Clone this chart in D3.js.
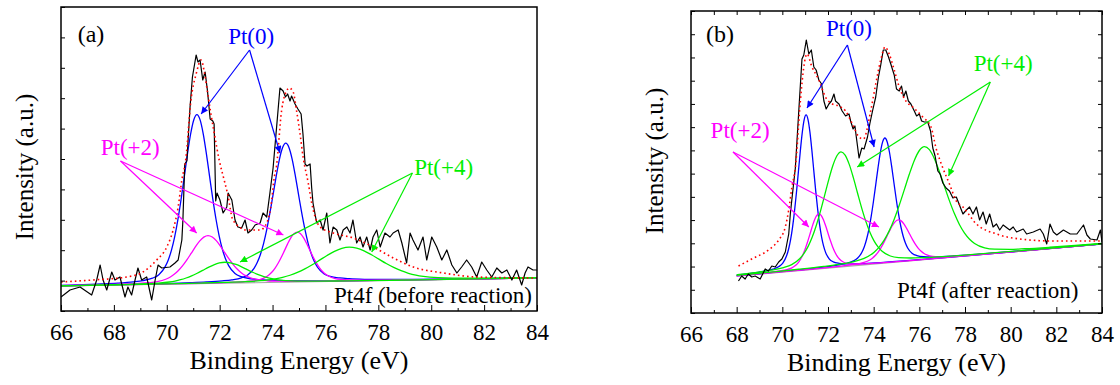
<!DOCTYPE html>
<html>
<head>
<meta charset="utf-8">
<script src="https://cdnjs.cloudflare.com/ajax/libs/d3/7.8.5/d3.min.js"></script>
<style>
  body { margin: 0; background: #fff; }
</style>
</head>
<body>
<svg id="chart" width="1120" height="385"></svg>
<script>
// ---- data ----
const xTicks = [66, 68, 70, 72, 74, 76, 78, 80, 82, 84];
const xMinorTicks = [67, 69, 71, 73, 75, 77, 79, 81, 83];

// (a) before reaction: measured spectrum [binding energy, counts]
const spectrumA = [
  [66.0, 14], [66.34, 21], [66.72, 24], [67.16, 16], [67.35, 31], [67.48, 46], [67.59, 31], [67.73, 21],
  [67.92, 39], [68.04, 31], [68.23, 34], [68.42, 14], [68.53, 24], [68.67, 16], [68.80, 31], [68.91, 43],
  [69.05, 31], [69.24, 34], [69.43, 11], [69.56, 31], [69.67, 46], [69.81, 43], [70.12, 44], [70.31, 48],
  [70.43, 51], [70.57, 71], [70.61, 91], [70.68, 147], [70.76, 150], [70.88, 204], [70.97, 234], [71.11, 256],
  [71.18, 249], [71.26, 251], [71.36, 231], [71.45, 239], [71.54, 220], [71.64, 192], [71.74, 190], [71.79, 187],
  [71.85, 110], [71.90, 118], [72.01, 111], [72.13, 98], [72.27, 104], [72.32, 118], [72.46, 111], [72.58, 91],
  [72.69, 84], [72.83, 83], [72.96, 91], [73.07, 78], [73.21, 81], [73.34, 86], [73.53, 88], [73.64, 98],
  [73.78, 94], [73.90, 118], [74.02, 143], [74.28, 223], [74.40, 220], [74.49, 214], [74.57, 217], [74.66, 210],
  [74.72, 215], [74.85, 207], [74.96, 202], [75.08, 197], [75.15, 177], [75.23, 147], [75.30, 145], [75.42, 147],
  [75.48, 123], [75.53, 108], [75.67, 88], [75.80, 91], [75.91, 81], [76.05, 98], [76.17, 68], [76.29, 84],
  [76.43, 81], [76.55, 71], [76.67, 81], [76.81, 84], [76.93, 78], [77.04, 91], [77.18, 68], [77.31, 74],
  [77.42, 64], [77.56, 74], [77.69, 61], [77.80, 74], [77.94, 81], [78.07, 64], [78.25, 78], [78.44, 74],
  [78.56, 78], [78.75, 81], [78.89, 68], [79.07, 48], [79.20, 78], [79.31, 71], [79.50, 61], [79.69, 74],
  [79.83, 51], [80.02, 74], [80.21, 64], [80.40, 51], [80.59, 61], [80.78, 46], [80.97, 38], [81.15, 44],
  [81.34, 51], [81.53, 44], [81.72, 34], [81.91, 49], [82.10, 41], [82.29, 34], [82.48, 43], [82.67, 38],
  [82.86, 41], [83.05, 31], [83.23, 41], [83.42, 26], [83.55, 38], [83.66, 44], [83.85, 41], [84.0, 41]
];
// (a) fitted envelope (red dotted)
const envelopeA = [
  [66.0, 29], [67.2, 31], [68.48, 34], [69.1, 39], [69.62, 51], [70.0, 64], [70.24, 81], [70.43, 104],
  [70.57, 131], [70.72, 152], [70.91, 210], [71.11, 237], [71.3, 251], [71.42, 239], [71.55, 217], [71.67, 197],
  [71.8, 177], [71.99, 150], [72.18, 130], [72.31, 116], [72.5, 91], [73.02, 81], [73.53, 81], [73.78, 88],
  [73.97, 111], [74.05, 131], [74.15, 145], [74.34, 200], [74.53, 220], [74.63, 223], [74.78, 219], [74.91, 200],
  [75.04, 177], [75.16, 153], [75.35, 128], [75.48, 108], [75.6, 95], [75.8, 84], [76.3, 78], [77.05, 73],
  [77.81, 64], [78.57, 53], [79.32, 44], [80.46, 38], [81.72, 34], [84.0, 33]
];
// (a) background line and fitted components: Pt(0) 4f7/2, 4f5/2, Pt(+2) x2, Pt(+4) x2
const baseA = [[66, 25], [84, 33]];
const centersA = [71.14, 74.50, 71.56, 74.93, 72.20, 76.90];
const heightsA = [169, 139, 48, 50, 21, 34];
const widthsA = [1.2, 1.2, 1.6, 1.2, 2.1, 2.8];

// (b) after reaction
const spectrumB = [
  [68.08, 32], [68.22, 37], [68.37, 34], [68.51, 39], [68.66, 36], [68.81, 37], [69.03, 34], [69.25, 44],
  [69.39, 42], [69.54, 47], [69.69, 46], [69.84, 51], [69.98, 54], [70.13, 61], [70.28, 79], [70.35, 99],
  [70.42, 114], [70.57, 145], [70.72, 202], [70.86, 254], [70.94, 258], [71.05, 273], [71.16, 259], [71.27, 263],
  [71.38, 246], [71.48, 243], [71.60, 233], [71.72, 229], [71.82, 212], [71.92, 204], [72.04, 209], [72.15, 212],
  [72.26, 219], [72.33, 212], [72.48, 209], [72.62, 202], [72.77, 197], [72.92, 199], [72.99, 192], [73.10, 184],
  [73.18, 187], [73.24, 176], [73.36, 155], [73.48, 165], [73.58, 164], [73.73, 176], [73.83, 189], [73.95, 202],
  [74.09, 216], [74.21, 236], [74.31, 248], [74.42, 263], [74.53, 263], [74.65, 256], [74.75, 249], [74.90, 238],
  [75.00, 224], [75.12, 222], [75.22, 227], [75.31, 216], [75.41, 222], [75.52, 212], [75.63, 209], [75.78, 202],
  [75.88, 197], [76.00, 199], [76.10, 192], [76.22, 191], [76.37, 191], [76.49, 182], [76.59, 165], [76.69, 157],
  [76.81, 142], [76.91, 139], [77.03, 130], [77.17, 125], [77.32, 122], [77.47, 115], [77.62, 116], [77.91, 99],
  [78.06, 103], [78.20, 106], [78.35, 99], [78.50, 106], [78.64, 93], [78.79, 101], [78.93, 89], [79.08, 99],
  [79.23, 86], [79.38, 89], [79.52, 83], [79.67, 88], [79.96, 83], [80.11, 86], [80.26, 81], [80.55, 84],
  [80.70, 79], [80.99, 81], [81.29, 84], [81.43, 79], [81.58, 69], [81.72, 89], [81.87, 81], [82.02, 78],
  [82.31, 83], [82.61, 79], [82.90, 79], [83.19, 88], [83.34, 78], [83.49, 74], [83.78, 73], [83.93, 83],
  [84.0, 71]
];
const envelopeB = [
  [68.08, 47], [68.66, 54], [69.39, 63], [69.84, 73], [70.13, 86], [70.28, 103], [70.42, 126], [70.57, 145],
  [70.79, 212], [70.94, 246], [71.08, 259], [71.3, 246], [71.6, 233], [71.89, 216], [72.19, 209], [72.48, 207],
  [72.77, 202], [73.07, 189], [73.36, 176], [73.55, 174], [73.87, 202], [74.09, 229], [74.31, 253], [74.5, 266],
  [74.68, 259], [74.9, 243], [75.12, 226], [75.41, 212], [75.71, 206], [76.15, 196], [76.51, 186], [76.73, 165],
  [77.03, 145], [77.32, 129], [77.62, 112], [77.91, 106], [78.5, 89], [79.38, 79], [80.41, 74], [81.87, 72],
  [84.0, 72]
];
const baseB = [[68, 37], [84, 69]];
const centersB = [71.04, 74.49, 71.60, 75.08, 72.57, 76.22];
const heightsB = [155, 125, 55, 42, 115, 113];
const widthsB = [0.85, 1.0, 1.0, 1.25, 1.8, 2.2];

// common peak line shape: offset from centre (in FWHM) -> relative height
const shapeOffsets = [0, 0.1, 0.2, 0.3, 0.4, 0.5, 0.6, 0.7, 0.8, 0.9, 1.0, 1.2, 1.4, 1.7, 2.0, 2.5, 3, 4, 6, 10, 16];
const shapeHeights = [1, 0.969, 0.885, 0.766, 0.632, 0.5, 0.381, 0.281, 0.203, 0.145, 0.104, 0.057, 0.037,
  0.024, 0.0176, 0.0115, 0.0081, 0.0046, 0.0021, 0.00075, 0.0003];

const peakColors = ['#0000ff', '#0000ff', '#ff00ff', '#ff00ff', '#00ee00', '#00ee00'];
const drawOrder = [0, 1, 2, 3, 4, 5];
const FONT = '"Liberation Serif", "DejaVu Serif", "Times New Roman", Times, serif';

const panels = [
  {
    id: 'a', box: [61, 537, 7, 311], vMax: 304, eStart: 66, yTickCount: 10, mirrorTicks: false, yLabelAt: 167,
    spectrum: spectrumA, envelope: envelopeA, base: baseA, centers: centersA, heights: heightsA, widths: widthsA,
    tag: ['(a)', 66.63, 269], note: ['Pt4f (before reaction)', 83.81, 8],
    labels: [
      { text: 'Pt(0)', color: '#0000ff', at: [73.19, 267], from: [73.13, 261], to: [[71.30, 197], [74.28, 158]] },
      { text: 'Pt(+2)', color: '#ff00ff', at: [68.62, 156], from: [68.25, 150], to: [[71.13, 78], [74.41, 76]] },
      { text: 'Pt(+4)', color: '#00ee00', at: [80.47, 136], from: [79.29, 138], to: [[72.77, 49], [77.75, 59]] }
    ]
  },
  {
    id: 'b', box: [691, 1102, 11, 313], vMax: 302, eStart: 68, yTickCount: 13, mirrorTicks: true, yLabelAt: 161,
    spectrum: spectrumB, envelope: envelopeB, base: baseB, centers: centersB, heights: heightsB, widths: widthsB,
    tag: ['(b)', 66.66, 271], note: ['Pt4f (after reaction)', 82.97, 15],
    labels: [
      { text: 'Pt(0)', color: '#0000ff', at: [72.92, 277], from: [72.85, 268], to: [[71.08, 205], [74.02, 166]] },
      { text: 'Pt(+2)', color: '#ff00ff', at: [68.15, 175], from: [67.84, 161], to: [[71.16, 86], [74.23, 86]] },
      { text: 'Pt(+4)', color: '#00ee00', at: [79.67, 242], from: [79.11, 231], to: [[73.28, 146], [77.28, 137]] }
    ]
  }
];

const svg = d3.select('#chart').attr('font-family', FONT);
const defs = svg.append('defs');
['#0000ff', '#ff00ff', '#00ee00'].forEach((c, i) => {
  defs.append('marker').attr('id', 'arrow' + i)
    .attr('viewBox', '0 0 10 10').attr('refX', 10).attr('refY', 5)
    .attr('markerUnits', 'userSpaceOnUse').attr('markerWidth', 9).attr('markerHeight', 7)
    .attr('orient', 'auto')
    .append('path').attr('d', 'M0,0L10,5L0,10z').attr('fill', c);
});
const markerFor = c => 'url(#arrow' + ['#0000ff', '#ff00ff', '#00ee00'].indexOf(c) + ')';

function drawPanel(p) {
  const [x0, x1, y0, y1] = p.box;
  const x = d3.scaleLinear().domain([66, 84]).range([x0, x1]);
  const y = d3.scaleLinear().domain([0, p.vMax]).range([y1, y0]);
  const base = d3.scaleLinear().domain(p.base.map(d => d[0])).range(p.base.map(d => d[1]));
  const line = d3.line().x(d => x(d[0])).y(d => y(d[1]));
  const smooth = d3.line().x(d => x(d[0])).y(d => y(d[1])).curve(d3.curveMonotoneX);

  const g = svg.append('g');
  g.append('clipPath').attr('id', 'clip' + p.id).append('rect')
    .attr('x', x(p.eStart)).attr('y', y0).attr('width', x(84) - x(p.eStart)).attr('height', y1 - y0);
  const plot = g.append('g').attr('clip-path', `url(#clip${p.id})`);

  plot.append('path').datum(p.base).attr('d', line)
    .attr('fill', 'none').attr('stroke', '#a8a8a8').attr('stroke-width', 1.2);

  const offs = [...shapeOffsets.slice(1).reverse().map(t => -t), ...shapeOffsets];
  const rel = [...shapeHeights.slice(1).reverse(), ...shapeHeights];
  drawOrder.forEach(i => {
    const c = p.centers[i], w = p.widths[i], h = p.heights[i];
    const pts = offs.map((t, k) => [c + t * w, base(c + t * w) + h * rel[k]]);
    plot.append('path').datum(pts).attr('d', smooth)
      .attr('fill', 'none').attr('stroke', peakColors[i]).attr('stroke-width', 1.3);
  });

  plot.append('path').datum(p.spectrum).attr('d', line)
    .attr('fill', 'none').attr('stroke', '#000').attr('stroke-width', 1.2).attr('stroke-linejoin', 'round');
  plot.append('path').datum(p.envelope).attr('d', smooth)
    .attr('fill', 'none').attr('stroke', '#ff0000').attr('stroke-width', 1.6).attr('stroke-dasharray', '1.6,3');

  // axes
  const xb = g.append('g').attr('transform', `translate(0,${y1})`)
    .call(d3.axisBottom(x).tickValues(xTicks).tickSize(-6).tickFormat(d3.format('d')));
  xb.selectAll('text').attr('y', 29).attr('dy', null)
    .attr('font-size', 23).attr('font-family', FONT).attr('fill', '#000');
  g.append('g').attr('transform', `translate(0,${y1})`)
    .call(d3.axisBottom(x).tickValues(xMinorTicks).tickSize(-3).tickFormat(''));
  const yt = d3.scaleLinear().domain([0, p.yTickCount]).range([y1, y0]);
  g.append('g').attr('transform', `translate(${x0},0)`)
    .call(d3.axisLeft(yt).ticks(p.yTickCount).tickSize(-4).tickFormat(''));
  if (p.mirrorTicks) {
    g.append('g').attr('transform', `translate(${x1},0)`)
      .call(d3.axisRight(yt).ticks(p.yTickCount).tickSize(-4).tickFormat(''));
    g.append('g').attr('transform', `translate(0,${y0})`)
      .call(d3.axisTop(x).tickValues([...xTicks, ...xMinorTicks]).tickSize(-4).tickFormat(''));
  }
  g.selectAll('.domain').remove();
  g.selectAll('.tick line').attr('stroke', '#000').attr('stroke-width', 1);

  g.append('rect').attr('x', x0).attr('y', y0).attr('width', x1 - x0).attr('height', y1 - y0)
    .attr('fill', 'none').attr('stroke', '#000').attr('stroke-width', 1.5);

  g.append('text').attr('x', (x0 + x1) / 2).attr('y', y1 + 58).attr('text-anchor', 'middle')
    .attr('font-family', FONT).attr('font-size', 26).text('Binding Energy (eV)');
  g.append('text').attr('transform', `translate(${x0 - 28},${p.yLabelAt}) rotate(-90)`)
    .attr('text-anchor', 'middle').attr('font-family', FONT).attr('font-size', 25).text('Intensity (a.u.)');

  g.append('text').attr('x', x(p.tag[1])).attr('y', y(p.tag[2]))
    .attr('font-family', FONT).attr('font-size', 24).text(p.tag[0]);
  g.append('text').attr('x', x(p.note[1])).attr('y', y(p.note[2])).attr('text-anchor', 'end')
    .attr('font-family', FONT).attr('font-size', 23).text(p.note[0]);

  p.labels.forEach(l => {
    g.append('text').attr('x', x(l.at[0])).attr('y', y(l.at[1])).attr('text-anchor', 'middle')
      .attr('font-family', FONT).attr('font-size', 23).attr('fill', l.color).text(l.text);
    l.to.forEach(t => {
      g.append('line').attr('x1', x(l.from[0])).attr('y1', y(l.from[1]))
        .attr('x2', x(t[0])).attr('y2', y(t[1]))
        .attr('stroke', l.color).attr('stroke-width', 1.2).attr('marker-end', markerFor(l.color));
    });
  });
}

panels.forEach(drawPanel);
</script>
</body>
</html>
